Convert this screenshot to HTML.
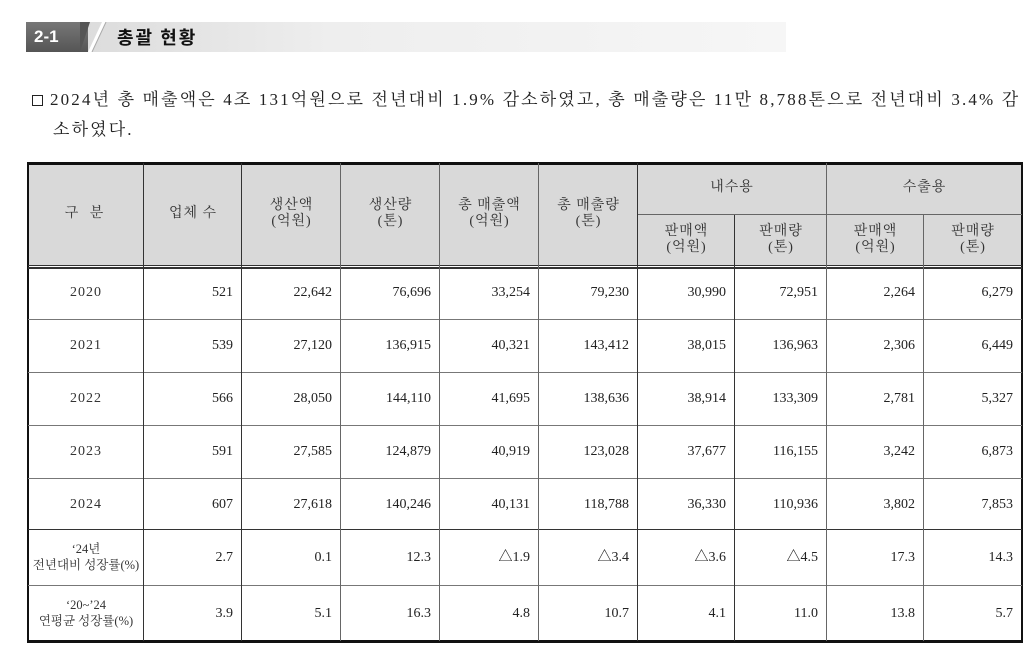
<!DOCTYPE html>
<html><head><meta charset="utf-8">
<style>
body{margin:0;width:1034px;height:662px;background:#fff;position:relative;overflow:hidden;font-family:"Liberation Serif","Noto Serif CJK SC",serif;color:#222}
.a{position:absolute}
.bar{left:26px;top:22px;width:760px;height:30px;background:linear-gradient(to right,#d8d8d8,#eeeeee 40%,#f6f6f6)}
.box{left:26px;top:22px;width:62px;height:30px;background:linear-gradient(#777,#555);color:#fff;font:bold 17px "Liberation Sans","Noto Sans CJK KR",sans-serif;line-height:30px;padding-left:8px;box-sizing:border-box}
.t{font:bold 18px "Noto Sans CJK KR",sans-serif;letter-spacing:2px;left:117px;top:22px;line-height:30px;color:#111}
.p{font-size:17px;left:32px;line-height:20px;white-space:nowrap}
.l{position:absolute;background:#333}
.c{position:absolute;font-size:14px;line-height:16px;text-align:right;transform:translateY(-50%)}
.h{position:absolute;font-size:14px;line-height:16px;text-align:center;transform:translateY(-50%);color:#333;letter-spacing:1px}
</style></head><body>
<div class="a bar"></div>
<div class="a box">2-1</div>
<svg class="a" style="left:80px;top:22px" width="30" height="30"><polygon points="8,30 22,0 26,0 12,30" fill="#fff"/><polygon points="0,0 10,0 0,30" fill="#555"/><polyline points="12,30 26,0" stroke="#aaa" fill="none"/></svg>
<div class="a t">총괄 현황</div>
<div class="a" style="left:32px;top:95px;width:11px;height:11px;border:1.5px solid #222;box-sizing:border-box"></div>
<div class="a p" style="top:90px;left:50px;letter-spacing:2.15px">2024년 총 매출액은 4조 131억원으로 전년대비 1.9% 감소하였고, 총 매출량은 11만 8,788톤으로 전년대비 3.4% 감</div>
<div class="a p" style="top:120px;left:53px;letter-spacing:2.15px">소하였다.</div>

<div class="a" style="left:28px;top:163px;width:994px;height:103px;background:#d9d9d9"></div>
<div class="l" style="left:27px;top:162px;width:996px;height:3px;background:#111"></div>
<div class="l" style="left:27px;top:640px;width:996px;height:3px;background:#111"></div>
<div class="l" style="left:27px;top:162px;width:2px;height:481px;background:#111"></div>
<div class="l" style="left:1021px;top:162px;width:2px;height:481px;background:#111"></div>
<div class="l" style="left:28px;top:265px;width:994px;height:1px"></div>
<div class="l" style="left:28px;top:267px;width:994px;height:2px"></div>
<div class="l" style="left:638px;top:214px;width:384px;height:1px;background:#666"></div>
<div class="l" style="left:28px;top:319px;width:994px;height:1px;background:#777"></div>
<div class="l" style="left:28px;top:372px;width:994px;height:1px;background:#777"></div>
<div class="l" style="left:28px;top:425px;width:994px;height:1px;background:#777"></div>
<div class="l" style="left:28px;top:478px;width:994px;height:1px;background:#777"></div>
<div class="l" style="left:28px;top:529px;width:994px;height:1px"></div>
<div class="l" style="left:28px;top:585px;width:994px;height:1px;background:#777"></div>
<div class="l" style="left:143px;top:163px;width:1px;height:478px"></div>
<div class="l" style="left:241px;top:163px;width:1px;height:478px"></div>
<div class="l" style="left:340px;top:163px;width:1px;height:478px;background:#666"></div>
<div class="l" style="left:439px;top:163px;width:1px;height:478px;background:#666"></div>
<div class="l" style="left:538px;top:163px;width:1px;height:478px;background:#666"></div>
<div class="l" style="left:637px;top:163px;width:1px;height:478px"></div>
<div class="l" style="left:734px;top:215px;width:1px;height:426px"></div>
<div class="l" style="left:826px;top:163px;width:1px;height:478px;background:#666"></div>
<div class="l" style="left:923px;top:215px;width:1px;height:426px;background:#666"></div>

<div class="h" style="left:28px;width:116px;top:214px;letter-spacing:4px">구 분</div>
<div class="h" style="left:144px;width:98px;top:214px">업체 수</div>
<div class="h" style="left:242px;width:99px;top:214px">생산액<br>(억원)</div>
<div class="h" style="left:341px;width:99px;top:214px">생산량<br>(톤)</div>
<div class="h" style="left:440px;width:99px;top:214px">총 매출액<br>(억원)</div>
<div class="h" style="left:539px;width:99px;top:214px">총 매출량<br>(톤)</div>
<div class="h" style="left:638px;width:188px;top:188px">내수용</div>
<div class="h" style="left:827px;width:195px;top:188px">수출용</div>
<div class="h" style="left:638px;width:97px;top:240px">판매액<br>(억원)</div>
<div class="h" style="left:735px;width:92px;top:240px">판매량<br>(톤)</div>
<div class="h" style="left:827px;width:97px;top:240px">판매액<br>(억원)</div>
<div class="h" style="left:924px;width:98px;top:240px">판매량<br>(톤)</div>

<div class="h" style="left:28px;width:116px;top:293px">2020</div>
<div class="h" style="left:28px;width:116px;top:346px">2021</div>
<div class="h" style="left:28px;width:116px;top:399px">2022</div>
<div class="h" style="left:28px;width:116px;top:452px">2023</div>
<div class="h" style="left:28px;width:116px;top:505px">2024</div>
<div class="h" style="left:28px;width:116px;top:557px;font-size:12.5px;letter-spacing:0">‘24년<br>전년대비 성장률(%)</div>
<div class="h" style="left:28px;width:116px;top:613px;font-size:12.5px;letter-spacing:0">‘20~’24<br>연평균 성장률(%)</div>

<div class="c" style="right:801px;top:293px">521</div><div class="c" style="right:702px;top:293px">22,642</div><div class="c" style="right:603px;top:293px">76,696</div><div class="c" style="right:504px;top:293px">33,254</div><div class="c" style="right:405px;top:293px">79,230</div><div class="c" style="right:308px;top:293px">30,990</div><div class="c" style="right:216px;top:293px">72,951</div><div class="c" style="right:119px;top:293px">2,264</div><div class="c" style="right:21px;top:293px">6,279</div>
<div class="c" style="right:801px;top:346px">539</div><div class="c" style="right:702px;top:346px">27,120</div><div class="c" style="right:603px;top:346px">136,915</div><div class="c" style="right:504px;top:346px">40,321</div><div class="c" style="right:405px;top:346px">143,412</div><div class="c" style="right:308px;top:346px">38,015</div><div class="c" style="right:216px;top:346px">136,963</div><div class="c" style="right:119px;top:346px">2,306</div><div class="c" style="right:21px;top:346px">6,449</div>
<div class="c" style="right:801px;top:399px">566</div><div class="c" style="right:702px;top:399px">28,050</div><div class="c" style="right:603px;top:399px">144,110</div><div class="c" style="right:504px;top:399px">41,695</div><div class="c" style="right:405px;top:399px">138,636</div><div class="c" style="right:308px;top:399px">38,914</div><div class="c" style="right:216px;top:399px">133,309</div><div class="c" style="right:119px;top:399px">2,781</div><div class="c" style="right:21px;top:399px">5,327</div>
<div class="c" style="right:801px;top:452px">591</div><div class="c" style="right:702px;top:452px">27,585</div><div class="c" style="right:603px;top:452px">124,879</div><div class="c" style="right:504px;top:452px">40,919</div><div class="c" style="right:405px;top:452px">123,028</div><div class="c" style="right:308px;top:452px">37,677</div><div class="c" style="right:216px;top:452px">116,155</div><div class="c" style="right:119px;top:452px">3,242</div><div class="c" style="right:21px;top:452px">6,873</div>
<div class="c" style="right:801px;top:505px">607</div><div class="c" style="right:702px;top:505px">27,618</div><div class="c" style="right:603px;top:505px">140,246</div><div class="c" style="right:504px;top:505px">40,131</div><div class="c" style="right:405px;top:505px">118,788</div><div class="c" style="right:308px;top:505px">36,330</div><div class="c" style="right:216px;top:505px">110,936</div><div class="c" style="right:119px;top:505px">3,802</div><div class="c" style="right:21px;top:505px">7,853</div>
<div class="c" style="right:801px;top:558px">2.7</div><div class="c" style="right:702px;top:558px">0.1</div><div class="c" style="right:603px;top:558px">12.3</div><div class="c" style="right:504px;top:558px">△1.9</div><div class="c" style="right:405px;top:558px">△3.4</div><div class="c" style="right:308px;top:558px">△3.6</div><div class="c" style="right:216px;top:558px">△4.5</div><div class="c" style="right:119px;top:558px">17.3</div><div class="c" style="right:21px;top:558px">14.3</div>
<div class="c" style="right:801px;top:614px">3.9</div><div class="c" style="right:702px;top:614px">5.1</div><div class="c" style="right:603px;top:614px">16.3</div><div class="c" style="right:504px;top:614px">4.8</div><div class="c" style="right:405px;top:614px">10.7</div><div class="c" style="right:308px;top:614px">4.1</div><div class="c" style="right:216px;top:614px">11.0</div><div class="c" style="right:119px;top:614px">13.8</div><div class="c" style="right:21px;top:614px">5.7</div>
</body></html>
